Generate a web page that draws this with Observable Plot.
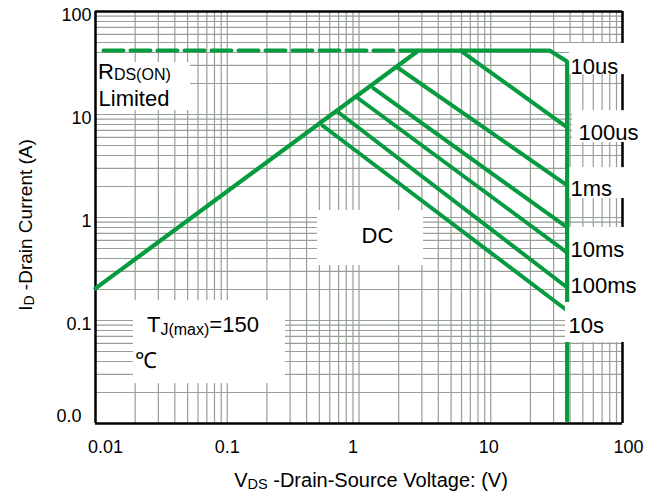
<!DOCTYPE html>
<html>
<head>
<meta charset="utf-8">
<script src="https://cdn.jsdelivr.net/npm/d3@7"></script>
<script src="https://cdn.jsdelivr.net/npm/@observablehq/plot@0.6"></script>
<style>
  body { margin: 0; background: #fff; }
  svg { display: block; }
</style>
</head>
<body>
<div id="chart"></div>
<script>
// Safe operating area: drain current vs drain-source voltage (log-log)

// Axis ticks
const xTicks = [0.01, 0.1, 1, 10, 100];
const xTickText = ["0.01", "0.1", "1", "10", "100"];
const yTicks = [0.01, 0.1, 1, 10, 100];
const yTickText = ["0.0", "0.1", "1", "10", "100"];

// RDS(ON) limit (dashed) at the package current limit
const rdsV = [0.0115, 2.83];
const rdsA = [41.8, 41.8];

// 10us envelope: RDS(ON) slope, current limit, knee, then the VDSS wall
const envV = [0.01, 2.83, 28, 38, 38];
const envA = [0.205, 41.8, 41.8, 32.7, 0.0107];

// Pulse-width limited lines, each ending on the VDSS wall
const pulseName = ["100us", "1ms", "10ms", "100ms", "10s", "DC"];
const pulseStartV = [5.89, 1.96, 1.29, 0.99, 0.70, 0.528];
const pulseStartA = [41.8, 28.6, 17.9, 14.3, 10.46, 7.82];
const pulseEndV = [38, 38, 38, 38, 38, 38];
const pulseEndA = [7.5, 2.05, 0.80, 0.457, 0.209, 0.125];

// Plain annotations (baseline anchor, in volts / amps)
const noteText = ["10us", "100us", "1ms", "10ms", "100ms", "10s", "DC", "Limited", "\u2103"];
const noteV = [40.3, 46.4, 40.3, 40.3, 40.3, 38.9, 1.045, 0.01054, 0.0201];
const noteA = [25.0, 5.71, 1.60, 0.409, 0.183, 0.0748, 0.571, 11.97, 0.0342];

// White backgrounds behind the annotations
const boxV1 = [0.01035, 0.484, 0.0194, 39.6, 41.7, 39.6, 39.6];
const boxV2 = [0.0526, 3.09, 0.277, 163, 163, 163, 163];
const boxA1 = [32.0, 1.17, 0.156, 48.9, 10.9, 3.05, 0.80];
const boxA2 = [10.9, 0.342, 0.0244, 24.4, 5.35, 1.53, 0.1496];
// Background of the "10s" label, drawn over the VDSS wall
const topBoxV1 = [36.9], topBoxV2 = [163], topBoxA1 = [0.1496], topBoxA2 = [0.0611];

const GREEN = "#079b3f";
const GRID = "#969e96";
const FONT = "'Liberation Sans', Arial, Helvetica, sans-serif";

const decades = [0.01, 0.1, 1, 10];
const gridVals = decades.flatMap(d => [1, 2, 3, 4, 5, 6, 7, 8, 9].map(m => +(d * m).toPrecision(3))).concat([100]);

const envelope = envV.map((v, i) => ({v, a: envA[i]}));
const rdsLine = rdsV.map((v, i) => ({v, a: rdsA[i]}));
const pulses = pulseName.flatMap((name, i) => [
  {name, v: pulseStartV[i], a: pulseStartA[i]},
  {name, v: pulseEndV[i], a: pulseEndA[i]}
]);
const notes = noteText.map((t, i) => ({t, v: noteV[i], a: noteA[i]}));
const boxes = boxV1.map((v, i) => ({v1: v, v2: boxV2[i], a1: boxA1[i], a2: boxA2[i]}));
const topBoxes = topBoxV1.map((v, i) => ({v1: v, v2: topBoxV2[i], a1: topBoxA1[i], a2: topBoxA2[i]}));

const fmtX = d => xTickText[xTicks.indexOf(d)];
const fmtY = d => yTickText[yTicks.indexOf(d)];
const axX = (vals, dx) => Plot.axisX(vals, {tickSize: 0, tickPadding: 17, fontSize: 18, dx, tickFormat: fmtX, label: null});
const axY = (vals, dx, dy) => Plot.axisY(vals, {tickSize: 0, tickPadding: 4, fontSize: 18, dx, dy, tickFormat: fmtY, label: null});

const plot = Plot.plot({
  width: 662,
  height: 497,
  marginLeft: 95,
  marginRight: 40,
  marginTop: 11,
  marginBottom: 74,
  style: {fontFamily: FONT, background: "#fff", color: "#000"},
  x: {type: "log", domain: [0.01, 100], axis: null},
  y: {type: "log", domain: [0.01, 100], axis: null},
  marks: [
    // log grid
    Plot.ruleX(gridVals, {y1: 0.01, y2: 100, stroke: GRID, strokeWidth: 1.2}),
    Plot.ruleY(gridVals, {x1: 0.01, x2: 100, stroke: GRID, strokeWidth: 1.2}),
    // right edge of the frame (partly hidden by the labels)
    Plot.ruleX([100], {y1: 0.01, y2: 100, stroke: "#000", strokeWidth: 2.5}),
    // label backgrounds
    Plot.rect(boxes, {x1: "v1", x2: "v2", y1: "a1", y2: "a2", fill: "#fff"}),
    // remaining frame
    Plot.ruleX([0.01], {y1: 0.01, y2: 100, stroke: "#000", strokeWidth: 2.5}),
    Plot.ruleY([0.01, 100], {x1: 0.01, x2: 100, stroke: "#000", strokeWidth: 2.5}),
    // curves
    Plot.line(rdsLine, {x: "v", y: "a", stroke: GREEN, strokeWidth: 4, strokeDasharray: "20,7"}),
    Plot.line(pulses, {x: "v", y: "a", z: "name", stroke: GREEN, strokeWidth: 4}),
    Plot.line(envelope, {x: "v", y: "a", stroke: GREEN, strokeWidth: 4.2, strokeLinejoin: "miter"}),
    Plot.rect(topBoxes, {x1: "v1", x2: "v2", y1: "a1", y2: "a2", fill: "#fff"}),
    // annotations
    Plot.text(notes, {x: "v", y: "a", text: "t", textAnchor: "start", lineAnchor: "bottom", fontSize: 22, fill: "#000"}),
    // axes
    axX([0.01], 10),
    axX([0.1], 0),
    axX([1], -6),
    axX([10], -2),
    axX([100], 6),
    axY([0.1, 1, 10, 100], 0, 4),
    axY([0.01], -10, -7)
  ]
});

document.getElementById("chart").appendChild(plot);

// Labels with subscripts, placed through the plot's scales
const sx = plot.scale("x"), sy = plot.scale("y");
const svg = d3.select(plot);

function rich(x, y, parts, opts = {}) {
  const t = svg.append("text")
    .attr("font-family", FONT)
    .attr("fill", "#000")
    .attr("text-anchor", opts.anchor || "start");
  if (opts.rotate) t.attr("transform", `translate(${x},${y}) rotate(${opts.rotate})`);
  else t.attr("x", x).attr("y", y);
  parts.forEach(p => t.append("tspan").attr("font-size", p.size).attr("dy", p.dy || 0).text(p.text));
  return t;
}

rich(sx.apply(0.01054), sy.apply(21.9), [
  {text: "R", size: 22},
  {text: "DS(ON)", size: 16, dy: 1}
]);

rich(sx.apply(0.0248), sy.apply(0.0764), [
  {text: "T", size: 22},
  {text: "J(max)", size: 16, dy: 3},
  {text: "=150", size: 22, dy: -3}
]);

// axis titles
rich(371, 487, [
  {text: "V", size: 20},
  {text: "DS", size: 14.5, dy: 2},
  {text: " -Drain-Source Voltage: (V)", size: 20, dy: -2}
], {anchor: "middle"});

rich(32, 225, [
  {text: "I", size: 19},
  {text: "D", size: 14, dy: 2},
  {text: " -Drain Current (A)", size: 19, dy: -2}
], {anchor: "middle", rotate: -90});
</script>
</body>
</html>
